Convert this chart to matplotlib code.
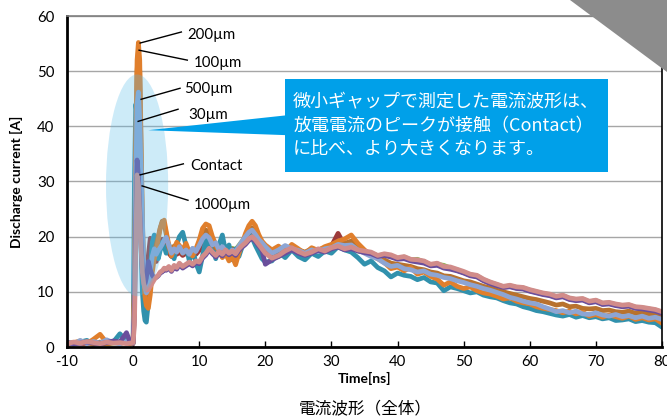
import numpy as np
import matplotlib
matplotlib.use("Agg")
import matplotlib.pyplot as plt
from matplotlib.patches import Ellipse, Polygon, Rectangle

plt.rcParams["axes.unicode_minus"] = False

# sample times [ns]
t = [-10, -9, -8, -7, -6, -5, -4, -3, -2, -1, -0.5, 0,
     0.2, 0.4, 0.6, 0.8, 1.0, 1.2, 1.4, 1.6, 1.8, 2.0,
     2.3, 2.6, 2.9, 3.2, 3.5, 3.8, 4.1, 4.4, 4.7, 5.0,
     5.4, 5.8, 6.2, 6.6,
     7.0, 7.5, 8.0, 8.5, 9.0, 9.5, 10, 10.5, 11, 11.5, 12, 12.5, 13, 13.5,
     14, 14.5, 15, 15.5, 16, 16.5, 17, 17.5, 18, 18.5, 19, 19.5, 20] + list(range(21, 81))

# discharge current [A]
green = [0.7, 0.7, 0.8, 0.7, 0.8, 0.8, 0.7, 0.7, 0.8, 0.8, 0.7, 0.7,
         8, 30, 40, 38, 31, 22, 14, 10, 9.5, 10,
         13, 16, 17.5, 17.0, 16.5, 17.2, 18.0, 18.8, 19.0, 18.2,
         17.5, 16.8, 17.2, 17.0,
         17.6, 17.0, 17.4, 16.9, 17.2, 17.0, 17.8, 18.8, 19.5, 19.2, 18.2, 17.8, 18.0, 17.6,
         18.0, 17.6, 17.9, 17.6, 18.4, 19.2, 19.9, 20.6, 21.0, 20.3, 19.4, 18.8, 18.4,
         16.0, 16.4, 17.2, 17.8, 17.1, 16.7, 17.0, 17.6, 17.3, 18.1, 18.4, 17.7, 18.3, 17.4, 17.2,
         17.0, 16.5, 16.8, 16.5, 16.0, 16.3, 15.8, 15.9, 15.4, 14.9, 15.0, 14.8, 14.3, 14.0, 13.5,
         13.1, 12.9, 12.2, 11.7, 11.3, 10.9, 11.1, 10.8, 10.7, 10.3, 10.0, 9.7, 9.5, 9.1, 9.3,
         8.8, 8.6, 8.7, 8.2, 8.4, 7.9, 8.0, 7.7, 7.5, 7.6, 7.2, 7.1, 6.9, 6.7, 6.3]

darkred = [0.6, 0.8, 0.7, 0.6, 0.9, 0.7, 0.6, 0.8, 0.7, 0.9, 0.8, 0.6,
           9, 32, 42, 40, 33, 24, 15, 10, 9, 11,
           16.5, 19.7, 19.0, 16.5, 15.5, 17.0, 18.5, 19.5, 19.0, 18.0,
           17.0, 16.4, 17.0, 16.8,
           17.2, 16.6, 17.0, 16.5, 17.0, 16.8, 17.5, 18.4, 19.0, 18.8, 18.0, 17.6, 17.9, 17.4,
           17.9, 17.3, 17.7, 17.4, 18.2, 18.9, 19.6, 20.2, 20.6, 20.0, 19.0, 18.2, 17.6,
           16.0, 16.5, 17.3, 18.2, 17.1, 16.6, 17.0, 17.6, 17.5, 18.3, 20.6, 18.4, 18.0, 17.5, 17.2,
           17.0, 16.5, 16.7, 16.5, 16.0, 16.2, 15.7, 15.6, 15.5, 14.8, 15.0, 14.4, 14.3, 13.9, 13.5,
           13.0, 12.8, 12.1, 11.6, 11.2, 10.8, 11.0, 10.7, 10.6, 10.2, 9.9, 9.6, 9.4, 9.0, 9.2,
           8.7, 8.5, 8.6, 8.1, 8.3, 7.8, 7.9, 7.6, 7.4, 7.5, 7.1, 7.0, 6.8, 6.6, 6.2]

um30 = [0.5, 0.7, 0.9, 1.2, 0.6, 0.8, 1.0, 0.9, 2.4, 1.0, 0.8, 1.2,
        30, 44, 42, 36, 28, 18, 10, 6.5, 4.8, 4.5,
        8.0, 14.0, 19.0, 20.3, 18.0, 16.0, 17.5, 19.0, 18.2, 17.0,
        18.6, 17.2, 16.0, 18.5,
        20.0, 20.8, 18.4, 15.6, 17.8, 15.2, 13.6, 16.5, 19.5, 17.5, 19.2, 16.0, 18.6, 20.3,
        17.2, 18.5, 15.8, 17.8, 16.4, 18.2, 19.6, 20.5, 19.8, 18.4, 17.2, 16.0, 15.4,
        15.6, 17.2, 16.2, 17.6, 16.4, 15.8, 17.0, 16.4, 17.4, 17.0, 18.2, 17.6, 17.2, 16.2, 15.0,
        15.6, 14.4, 13.8, 12.7, 13.4, 13.0, 12.8, 12.2, 12.6, 11.8, 11.6, 10.2, 10.9, 10.6, 10.2,
        9.8, 10.0, 9.4, 9.1, 8.9, 8.4, 8.0, 7.8, 7.3, 7.0, 6.6, 6.4, 6.1, 5.8, 5.6,
        5.9, 5.4, 5.7, 5.3, 5.5, 5.1, 5.3, 4.8, 4.9, 5.1, 4.6, 4.8, 4.5, 4.4, 3.6]

um100 = [0.7, 0.6, 0.9, 0.8, 0.5, 0.9, 0.6, 0.8, 0.9, 0.7, 0.6, 0.9,
         10, 35, 50, 53.6, 50, 36, 22, 13, 9.5, 8.5,
         9.0, 12.0, 15.5, 17.0, 18.5, 20.0, 21.6, 22.8, 22.4, 20.5,
         18.0, 17.2, 18.3, 18.0,
         17.8, 17.0, 18.0, 17.5, 16.8, 17.5, 18.6, 20.2, 21.2, 20.8, 19.2, 18.0, 17.6, 16.8,
         17.2, 16.5, 16.8, 16.0, 17.2, 18.4, 19.8, 21.0, 21.6, 21.0, 19.8, 18.8, 18.0,
         17.2, 17.9, 17.6, 18.2, 17.6, 17.2, 17.8, 17.6, 18.0, 18.4, 19.0, 18.8, 19.2, 18.0, 17.2,
         16.8, 16.2, 15.8, 15.2, 15.0, 14.8, 14.6, 14.2, 14.0, 13.6, 13.4, 12.9, 12.8, 12.4, 12.0,
         11.8, 11.4, 11.0, 10.7, 10.3, 10.0, 9.7, 9.4, 9.1, 8.8, 8.6, 8.3, 8.0, 7.6, 7.8,
         7.3, 7.4, 7.0, 6.9, 7.0, 6.6, 6.7, 6.4, 6.3, 6.5, 6.1, 6.2, 5.9, 6.0, 5.6]

um200 = [0.4, 0.8, 1.1, 0.6, 1.4, 2.3, 0.8, 1.0, 0.6, 0.9, 0.7, 0.8,
         12, 38, 52, 55.2, 52, 38, 24, 14, 9, 7.5,
         7.0, 9.5, 13.5, 16.0, 17.5, 19.5, 21.5, 22.6, 23.0, 21.0,
         18.5, 16.5, 17.8, 19.0,
         18.4, 17.6, 18.8, 17.2, 16.5, 17.8, 19.4, 21.5, 22.3, 22.0, 20.0, 18.6, 17.3, 16.2,
         16.9, 15.6, 16.4, 14.9, 17.0, 18.8, 20.6, 22.0, 22.8, 22.0, 20.4, 19.2, 18.5,
         17.6, 18.3, 17.2, 18.6, 17.8, 16.9, 18.0, 17.5, 18.2, 18.6, 19.2, 19.6, 20.3, 18.8, 17.6,
         16.6, 16.0, 15.3, 14.2, 14.5, 13.8, 14.4, 13.2, 13.6, 12.8, 12.3, 11.2, 11.8, 11.0, 10.6,
         10.9, 10.2, 9.8, 9.6, 9.2, 8.7, 8.9, 8.3, 8.0, 7.8, 7.3, 7.0, 6.8, 6.6, 6.2,
         6.5, 6.0, 6.3, 5.6, 5.9, 5.4, 5.8, 5.5, 5.2, 5.6, 5.0, 5.3, 4.9, 5.1, 4.3]

um500 = [0.9, 0.5, 1.2, 0.6, 1.0, 0.7, 1.3, 0.8, 0.6, 1.0, 0.8, 0.7,
         8, 30, 44, 46.2, 41, 32, 23, 15, 11, 9.8,
         10.5, 13.5, 16.5, 17.8, 16.8, 17.5, 18.0, 18.6, 19.4, 19.9,
         18.4, 17.0, 17.8, 17.2,
         18.2, 17.0, 17.6, 16.8, 17.9, 17.3, 18.4, 19.6, 20.3, 19.8, 18.5, 18.9, 17.6, 18.2,
         17.4, 16.9, 17.6, 17.2, 18.3, 19.2, 20.0, 20.8, 21.2, 20.4, 19.5, 18.9, 18.2,
         17.0, 17.6, 18.4, 17.8, 17.5, 17.0, 17.6, 17.3, 17.8, 18.0, 18.6, 18.4, 18.5, 17.6, 17.0,
         16.4, 16.0, 15.2, 14.6, 14.8, 14.2, 14.0, 13.6, 13.8, 13.2, 13.0, 12.6, 12.4, 12.0, 11.7,
         11.3, 11.0, 10.6, 10.3, 9.9, 9.5, 9.0, 8.7, 8.3, 8.0, 7.8, 7.3, 6.9, 6.4, 6.6,
         6.2, 6.5, 6.0, 5.9, 6.2, 5.8, 5.6, 5.9, 5.5, 5.7, 5.3, 5.6, 5.2, 5.4, 5.0]

contact = [0.8, 0.6, 0.7, 0.9, 0.7, 0.6, 0.8, 1.1, 0.9, 2.6, 1.0, 0.8,
           6, 22, 33.9, 31, 25, 19, 14, 12, 11.5, 12.5,
           15.5, 14.0, 13.0, 12.5, 12.6, 12.9, 13.4, 13.6, 14.0, 13.9,
           14.3, 13.7, 14.5, 14.1,
           14.9, 14.3, 14.7, 15.1, 14.7, 15.3, 15.1, 16.1, 16.7, 17.6, 16.9, 16.3, 17.0, 16.5,
           17.3, 16.7, 17.1, 16.6, 17.5, 18.1, 18.6, 19.3, 19.7, 19.1, 18.3, 17.5, 15.0,
           15.8, 16.4, 17.0, 17.6, 17.0, 16.6, 17.0, 17.5, 17.2, 17.8, 18.1, 17.6, 17.8, 17.4, 17.1,
           16.9, 16.4, 16.6, 16.3, 15.9, 16.0, 15.6, 15.4, 15.2, 14.7, 14.8, 14.3, 14.1, 13.8, 13.4,
           12.9, 12.7, 12.0, 11.5, 11.1, 10.8, 10.9, 10.6, 10.5, 10.1, 9.8, 9.5, 9.3, 8.9, 9.1,
           8.6, 8.4, 8.5, 8.0, 8.2, 7.7, 7.8, 7.5, 7.3, 7.4, 7.0, 6.9, 6.7, 6.5, 6.1]

um1000 = [0.6, 0.9, 0.7, 1.0, 0.8, 0.6, 0.9, 0.7, 0.8, 0.6, 0.7, 0.8,
          4, 18, 31.2, 29.5, 24, 18, 13.5, 11.5, 10.6, 10.3,
          10.4, 11.0, 11.6, 12.2, 12.7, 13.0, 13.6, 13.8, 14.3, 14.1,
          14.6, 13.9, 14.8, 14.4,
          15.2, 14.6, 15.0, 15.4, 15.0, 15.6, 15.4, 16.4, 17.0, 17.9, 17.2, 16.6, 17.3, 16.8,
          17.6, 17.0, 17.4, 16.9, 17.8, 18.4, 18.9, 19.6, 20.0, 19.4, 18.6, 17.8, 17.0,
          16.1, 16.6, 17.4, 18.0, 17.3, 16.8, 17.2, 17.8, 17.4, 18.0, 18.3, 17.8, 18.1, 17.6, 17.4,
          17.2, 16.6, 16.9, 16.7, 16.2, 16.4, 15.9, 15.8, 15.6, 15.0, 15.2, 14.6, 14.5, 14.1, 13.7,
          13.2, 13.0, 12.3, 11.8, 11.4, 11.0, 11.2, 10.9, 10.8, 10.4, 10.1, 9.8, 9.6, 9.2, 9.4,
          8.9, 8.7, 8.8, 8.3, 8.5, 8.0, 8.1, 7.8, 7.6, 7.7, 7.3, 7.2, 7.0, 6.8, 6.4]

# drawing order bottom -> top
series = [
    (green, "#8DB352"),
    (darkred, "#9C3A3A"),
    (um30, "#3191AD"),
    (um100, "#B8722E"),
    (um200, "#E07F2C"),
    (um500, "#8DA5D3"),
    (contact, "#6A4E9C"),
    (um1000, "#D18C8A"),
]

# (label, point on waveform, end of leader line, text position)
labels = [
    ("200µm", (1.06, 55.1), (7.3, 57.1), (8.2, 56.6)),
    ("100µm", (0.9, 53.8), (8.2, 52.0), (9.1, 51.4)),
    ("500µm", (1.2, 44.9), (7.1, 46.9), (7.7, 46.7)),
    ("30µm", (0.76, 40.9), (6.8, 43.1), (8.3, 42.1)),
    ("Contact", (1.06, 31.2), (7.6, 33.2), (8.6, 32.8)),
    ("1000µm", (1.36, 29.2), (8.3, 26.6), (9.1, 25.7)),
]

LATIN = ["Lato", "DejaVu Sans"]
JP = ["Noto Sans CJK JP", "DejaVu Sans"]

fig = plt.figure(figsize=(6.67, 4.19), dpi=100)
ax = fig.add_axes([67 / 667, 72 / 419, 595 / 667, 331 / 419])

for vals, col in series:
    ax.plot(t, vals, color=col, lw=3.4, solid_joinstyle="round", zorder=2)

ax.set_xlim(-10, 80)
ax.set_ylim(0, 60)
ax.set_xticks(np.arange(-10, 81, 10))
ax.set_yticks(np.arange(0, 61, 10))
ax.set_axisbelow(True)
ax.yaxis.grid(True, color="#A6A6A6", lw=1.0)
ax.tick_params(axis="x", direction="in", length=4, width=1, pad=6)
ax.tick_params(axis="y", length=0, pad=9)
for lab in ax.get_xticklabels() + ax.get_yticklabels():
    lab.set_family(LATIN)
    lab.set_fontsize(10.8)
ax.spines["left"].set_linewidth(2)
ax.spines["bottom"].set_linewidth(2)
ax.spines["right"].set_linewidth(1.2)
ax.spines["top"].set_color("#7F7F7F")
ax.spines["top"].set_linewidth(1.2)

ax.set_xlabel("Time[ns]", family=LATIN, fontsize=10, fontweight="bold", labelpad=2)
ax.set_ylabel("Discharge current [A]", family=LATIN, fontsize=10, fontweight="bold", labelpad=10)

# highlight of the peaks
ax.add_patch(Ellipse((0.6, 29.3), 9.4, 40.2, facecolor="#5BBDEB", alpha=0.3,
                     edgecolor="none", zorder=3))

# callout
ax.add_patch(Rectangle((23.0, 31.7), 48.9, 16.9, facecolor="#00A0E9", edgecolor="none", zorder=4))
ax.add_patch(Polygon([(2.3, 39.3), (23.2, 42.0), (23.2, 38.4)], closed=True,
                     facecolor="#00A0E9", edgecolor="none", zorder=4))
ax.text(24.2, 40.1, "微小ギャップで測定した電流波形は、\n放電電流のピークが接触（Contact）\nに比べ、より大きくなります。",
        family=JP, fontsize=13, color="white", va="center", ha="left",
        linespacing=1.37, zorder=5)

for name, pt, end, txt in labels:
    ax.plot([pt[0], end[0]], [pt[1], end[1]], color="black", lw=1, zorder=5)
    ax.text(txt[0], txt[1], name, family=LATIN, fontsize=10.8, va="center", ha="left", zorder=5)

fig.text(365 / 667, 1 - 409 / 419, "電流波形（全体）", family=JP, fontsize=12,
         ha="center", va="center")

# grey corner at top right
fig.patches.append(Polygon([(570 / 667, 1.0), (1.0, 1.0), (1.0, 1 - 72 / 419)], closed=True,
                           transform=fig.transFigure, facecolor="#8C8C8C",
                           edgecolor="none", zorder=10))

fig.savefig("out.png", dpi=100)
